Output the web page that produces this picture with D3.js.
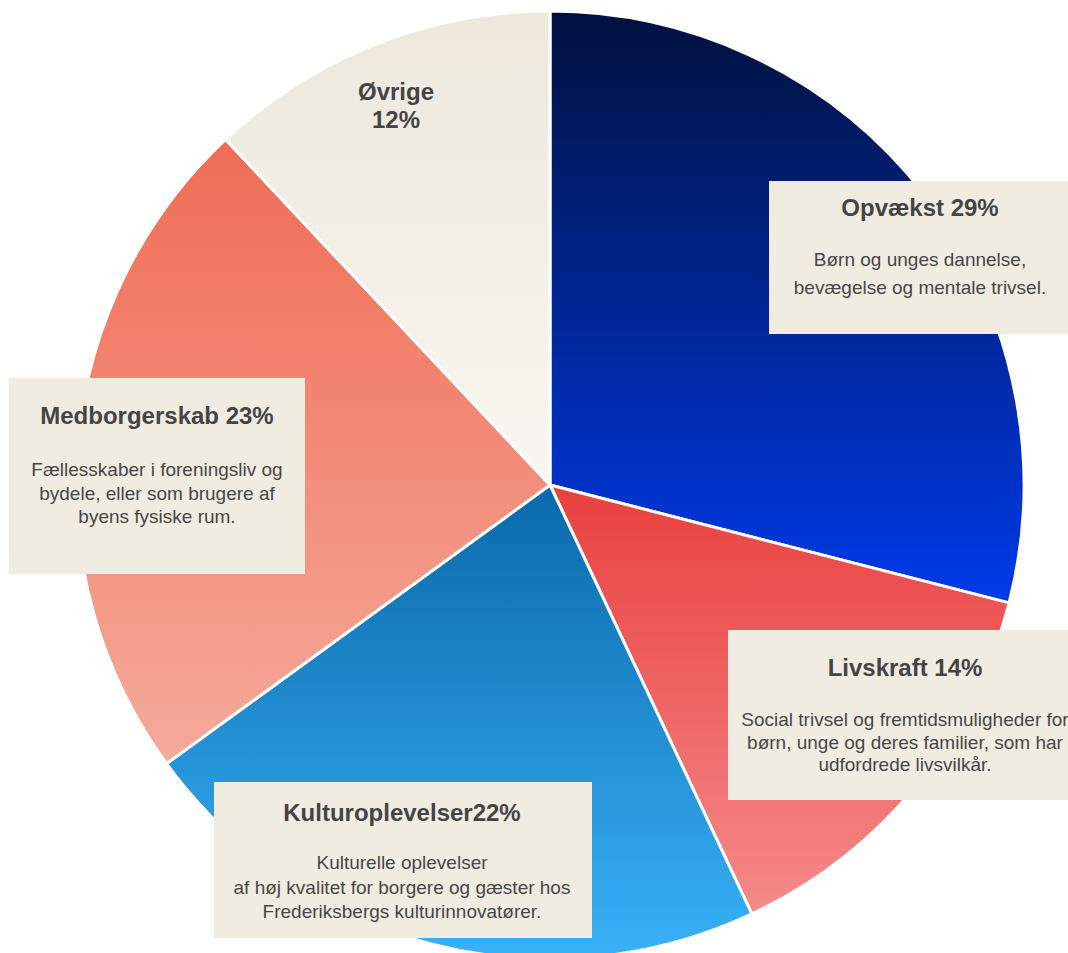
<!DOCTYPE html>
<html>
<head>
<meta charset="utf-8">
<script src="https://cdn.jsdelivr.net/npm/d3@7"></script>
<style>
  html, body { margin: 0; padding: 0; background: #ffffff; }
  svg { display: block; }
</style>
</head>
<body>
<svg id="chart" width="1068" height="953"></svg>
<script>
const categories = ["Opvækst", "Livskraft", "Kulturoplevelser", "Medborgerskab", "Øvrige"];
const values = [29, 14, 22, 23, 12];
const titles = ["Opvækst 29%", "Livskraft 14%", "Kulturoplevelser22%", "Medborgerskab 23%", "Øvrige|12%"];
const descriptions = [
  ["Børn og unges dannelse,", "bevægelse og mentale trivsel."],
  ["Social trivsel og fremtidsmuligheder for", "børn, unge og deres familier, som har", "udfordrede livsvilkår."],
  ["Kulturelle oplevelser", "af høj kvalitet for borgere og gæster hos", "Frederiksbergs kulturinnovatører."],
  ["Fællesskaber i foreningsliv og", "bydele, eller som brugere af", "byens fysiske rum."],
  []
];
const gradTop = ["#00113d", "#e8403f", "#0a69aa", "#f06c55", "#eee8dc"];
const gradBottom = ["#003aea", "#f68a8a", "#39b1f8", "#f5aa9b", "#f8f6f1"];

const W = 1068, H = 953;
const cx = 550, cy = 485, R = 474;
const svg = d3.select("#chart");
const defs = svg.append("defs");

categories.forEach((c, i) => {
  const g = defs.append("linearGradient")
    .attr("id", "grad" + i)
    .attr("x1", 0).attr("y1", 0).attr("x2", 0).attr("y2", 1);
  g.append("stop").attr("offset", "0%").attr("stop-color", gradTop[i]);
  g.append("stop").attr("offset", "100%").attr("stop-color", gradBottom[i]);
});

const pie = d3.pie().sort(null).value(d => d)(values);
const arc = d3.arc().innerRadius(0).outerRadius(R);

const g = svg.append("g").attr("transform", `translate(${cx},${cy})`);
g.selectAll("path").data(pie).join("path")
  .attr("d", arc)
  .attr("fill", (d, i) => `url(#grad${i})`)
  .attr("stroke", "#ffffff")
  .attr("stroke-width", 3)
  .attr("stroke-linejoin", "round");

// label boxes (layout)
const boxes = [
  { x: 769, y: 181, w: 310, h: 153, tx: 920, ty: 216, by: 266, lh: 28 },
  { x: 728, y: 630, w: 350, h: 170, tx: 905, ty: 676, by: 726, lh: 22.5 },
  { x: 214, y: 782, w: 378, h: 156, tx: 402, ty: 821, by: 869, lh: 24.5 },
  { x: 9, y: 378, w: 296, h: 196, tx: 157, ty: 424, by: 476, lh: 23.5 },
  { x: 343, y: 78, w: 109, h: 67, tx: 396, ty: 100, by: 0, lh: 0 }
];

const labels = svg.append("g");
boxes.forEach((b, i) => {
  labels.append("rect")
    .attr("x", b.x).attr("y", b.y).attr("width", b.w).attr("height", b.h)
    .attr("fill", i === 4 ? "#efebe2" : "#f0ece2");
  const tl = titles[i].split("|");
  tl.forEach((t, k) => {
    labels.append("text")
      .attr("x", b.tx).attr("y", b.ty + k * 28)
      .attr("text-anchor", "middle")
      .attr("font-family", "Liberation Sans, Arial, sans-serif")
      .attr("font-weight", "bold")
      .attr("font-size", 24)
      .attr("fill", "#444444")
      .text(t);
  });
  descriptions[i].forEach((line, k) => {
    labels.append("text")
      .attr("x", b.tx).attr("y", b.by + k * b.lh)
      .attr("text-anchor", "middle")
      .attr("font-family", "Liberation Sans, Arial, sans-serif")
      .attr("font-size", 19)
      .attr("fill", "#474747")
      .text(line);
  });
});
</script>
</body>
</html>
